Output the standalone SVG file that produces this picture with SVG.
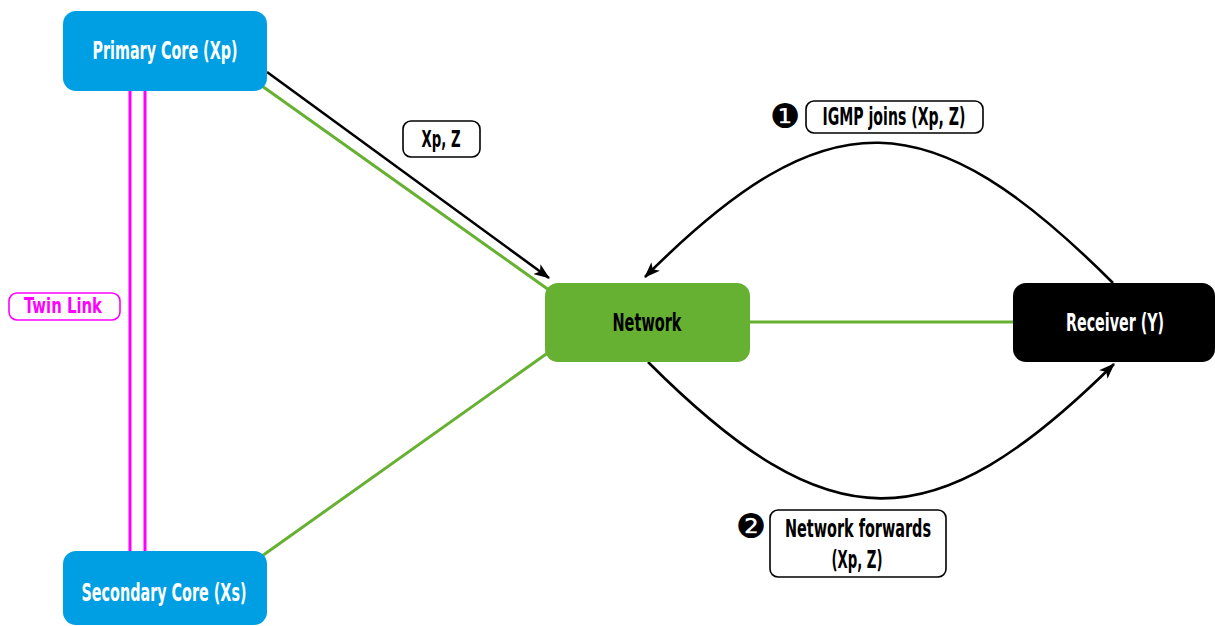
<svg xmlns="http://www.w3.org/2000/svg" width="1215" height="626" viewBox="0 0 1215 626">
<defs>
<style>
.t{font-family:"Liberation Sans Narrow","DejaVu Sans Condensed","Liberation Sans",sans-serif;font-stretch:condensed;font-weight:bold;text-anchor:middle}
.w{fill:#ffffff}
.k{fill:#000000}
.m{fill:#ff00ff}
.num{font-family:"DejaVu Sans",sans-serif;font-size:34px;text-anchor:middle;fill:#000000}
.lbl{fill:#ffffff;stroke:#000000;stroke-width:1.6}
.g{stroke:#66b132;stroke-width:3;fill:none}
.b{stroke:#000000;stroke-width:2.6;fill:none}
.tw{stroke:#ff00ff;stroke-width:3;fill:none}
</style>
<marker id="ah" viewBox="0 0 16 12" refX="15" refY="6" markerWidth="16" markerHeight="12" markerUnits="userSpaceOnUse" orient="auto">
<path d="M0,0 L16,6 L0,12 L4,6 Z" fill="#000000"/>
</marker>
</defs>
<g id="connectors">
<line class="tw" x1="130" y1="91" x2="130" y2="552"/>
<line class="tw" x1="145" y1="91" x2="145" y2="552"/>
<line class="g" x1="262" y1="86" x2="549" y2="290"/>
<line class="g" x1="262" y1="556" x2="549" y2="352"/>
<line class="g" x1="750" y1="322" x2="1013" y2="322"/>
<line class="b" x1="267" y1="72" x2="549" y2="278" marker-end="url(#ah)"/>
<path class="b" d="M1113,283 C930,100 828,94 645,277" marker-end="url(#ah)"/>
<path class="b" d="M648,362 C829,543 932,544 1114,364" marker-end="url(#ah)"/>
</g>
<g id="primary">
<rect x="63" y="11" width="204" height="80" rx="13" fill="#009fe3"/>
<text class="t w" x="165" y="59" font-size="24" textLength="145" lengthAdjust="spacingAndGlyphs">Primary Core (Xp)</text>
</g>
<g id="secondary">
<rect x="63" y="551" width="204" height="74" rx="13" fill="#009fe3"/>
<text class="t w" x="164" y="601" font-size="24" textLength="165" lengthAdjust="spacingAndGlyphs">Secondary Core (Xs)</text>
</g>
<g id="network">
<rect x="545" y="283" width="205" height="79" rx="13" fill="#66b132"/>
<text class="t k" x="647" y="331" font-size="24" textLength="69" lengthAdjust="spacingAndGlyphs">Network</text>
</g>
<g id="receiver">
<rect x="1013" y="283" width="202" height="79" rx="13" fill="#000000"/>
<text class="t w" x="1115" y="331" font-size="24" textLength="98" lengthAdjust="spacingAndGlyphs">Receiver (Y)</text>
</g>
<g id="twin-link-label">
<rect x="9" y="293" width="111" height="27" rx="8" fill="#ffffff" stroke="#ff00ff" stroke-width="1.6"/>
<text class="t m" x="63" y="313" font-size="21" textLength="78" lengthAdjust="spacingAndGlyphs">Twin Link</text>
</g>
<g id="xpz-label">
<rect class="lbl" x="403" y="121" width="77" height="36" rx="8"/>
<text class="t k" x="441" y="147" font-size="23" textLength="39" lengthAdjust="spacingAndGlyphs">Xp, Z</text>
</g>
<g id="igmp-label">
<text class="num" x="785" y="128">❶</text>
<rect class="lbl" x="806" y="101" width="177" height="32" rx="8"/>
<text class="t k" x="894" y="125" font-size="24" textLength="143" lengthAdjust="spacingAndGlyphs">IGMP joins (Xp, Z)</text>
</g>
<g id="forward-label">
<text class="num" x="751" y="538">❷</text>
<rect class="lbl" x="770" y="510" width="176" height="67" rx="8"/>
<text class="t k" x="858" y="537" font-size="24" textLength="146" lengthAdjust="spacingAndGlyphs">Network forwards</text>
<text class="t k" x="857" y="568" font-size="24" textLength="51" lengthAdjust="spacingAndGlyphs">(Xp, Z)</text>
</g>
</svg>
